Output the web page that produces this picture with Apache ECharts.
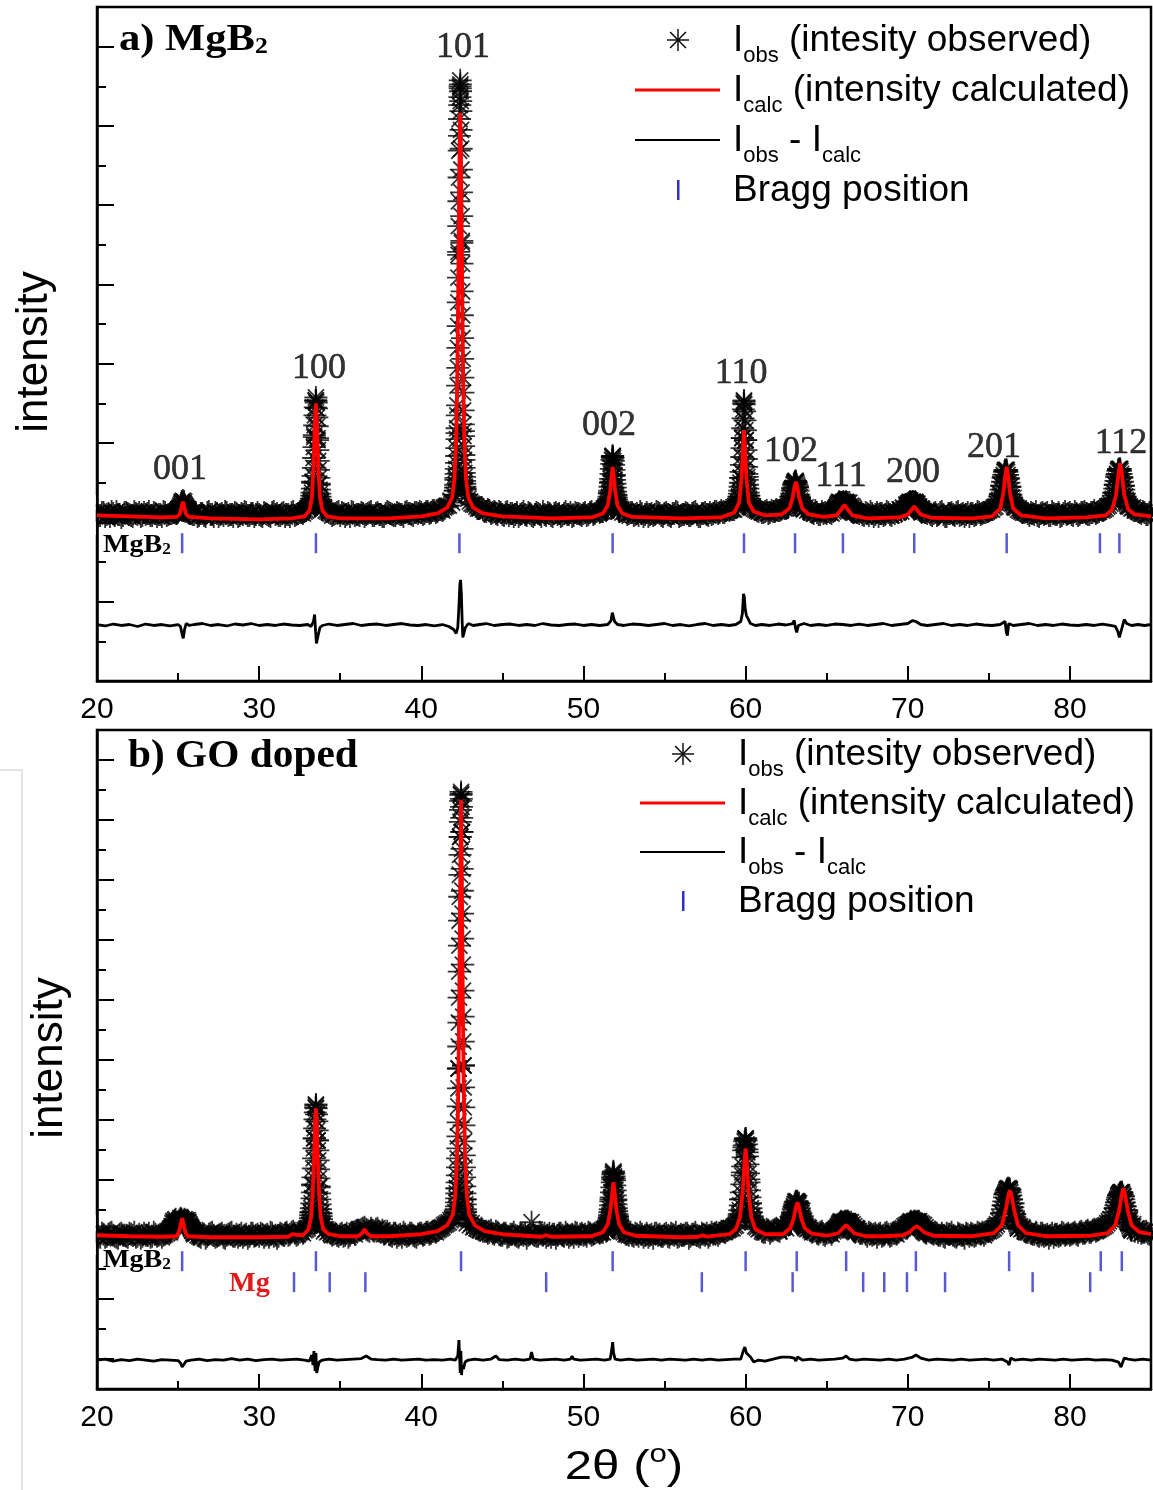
<!DOCTYPE html>
<html>
<head>
<meta charset="utf-8">
<title>MgB2 / GO doped - Rietveld refinement</title>
<script src="https://cdn.jsdelivr.net/npm/echarts@6.0.0/dist/echarts.min.js"></script>
<style>
  html, body { margin: 0; padding: 0; background: #fff; }
  #main { width: 1153px; height: 1490px; }
</style>
</head>
<body>
<div id="main"></div>
<script>
// coarse scan grid (2theta in degrees); a second pass sits half a step later
var scanStart = 20;
var scanStep = 0.2;

var xMajorTicks = [20, 30, 40, 50, 60, 70, 80];
var xMinorTicks = [25, 35, 45, 55, 65, 75];

// ---------- a) MgB2 ----------
var obsA = [
  89, 87, 90, 88, 86, 89, 91, 88, 87, 90, 88, 86, 89, 90, 87, 88, 91, 87, 89, 88, 86, 90, 88, 89, 90,
  91, 97, 98, 92, 89, 88, 86, 89, 87, 90, 88, 86, 89, 88, 87, 90, 88, 86, 89, 87, 88, 90, 87, 89, 88,
  88, 86, 89, 87, 90, 88, 87, 89, 86, 88, 90, 87, 89, 90, 91, 94, 102, 168, 163, 101, 95, 91, 89, 88, 90,
  87, 89, 88, 86, 90, 88, 87, 89, 88, 90, 87, 89, 88, 86, 89, 90, 88, 87, 89, 88, 90, 89, 88, 90, 89,
  90, 89, 91, 90, 92, 91, 93, 95, 97, 102, 108, 170, 518, 172, 108, 101, 98, 96, 94, 93, 91, 92, 90, 89, 91,
  88, 90, 87, 89, 88, 86, 89, 88, 90, 87, 88, 89, 86, 88, 90, 87, 89, 88, 86, 89, 88, 90, 87, 89, 88,
  89, 87, 90, 88, 91, 90, 91, 93, 110, 147, 107, 92, 90, 91, 89, 90, 88, 87, 89, 88, 86, 89, 88, 90, 87,
  89, 88, 86, 89, 90, 87, 88, 89, 87, 90, 88, 86, 89, 88, 90, 89, 91, 90, 90, 92, 92, 93, 95, 106, 165,
  163, 107, 95, 93, 91, 90, 91, 89, 92, 91, 92, 93, 94, 95, 106, 119, 116, 100, 94, 92, 91, 89, 90, 88, 89,
  89, 90, 91, 95, 100, 98, 100, 100, 96, 91, 89, 88, 90, 87, 89, 88, 86, 89, 88, 90, 87, 89, 90, 91, 93,
  99, 100, 100, 99, 93, 91, 89, 88, 89, 87, 90, 88, 86, 89, 88, 90, 87, 89, 88, 86, 89, 88, 90, 89, 90,
  92, 93, 96, 101, 117, 132, 125, 105, 96, 93, 91, 90, 89, 90, 88, 87, 89, 88, 90, 87, 89, 88, 86, 89, 88,
  90, 87, 89, 88, 90, 89, 88, 90, 89, 91, 92, 94, 97, 102, 118, 133, 126, 106, 97, 94, 92, 91, 89, 90, 88,
  89
];
var obsA2 = [
  87, 90, 86, 89, 91, 87, 88, 85, 90, 89, 87, 91, 88, 86, 90, 89, 87, 90, 86, 88, 91, 87, 89, 90, 89,
  94, 99, 95, 90, 88, 90, 87, 89, 86, 91, 88, 90, 86, 89, 91, 87, 88, 90, 86, 89, 91, 87, 89, 86, 90,
  87, 90, 88, 86, 91, 89, 87, 90, 88, 86, 91, 88, 90, 89, 92, 96, 121, 203, 119, 94, 92, 90, 87, 89, 91,
  90, 86, 89, 91, 87, 88, 90, 86, 89, 91, 87, 90, 88, 86, 91, 89, 87, 90, 88, 86, 91, 89, 87, 90, 91,
  88, 91, 89, 92, 90, 93, 92, 96, 97, 100, 112, 350, 362, 114, 104, 99, 98, 94, 95, 91, 93, 89, 91, 88, 90,
  87, 91, 89, 86, 90, 88, 91, 87, 89, 86, 90, 88, 91, 87, 89, 86, 90, 89, 87, 91, 88, 86, 90, 89, 87,
  90, 88, 91, 89, 92, 91, 93, 96, 121, 127, 97, 93, 91, 88, 90, 87, 89, 91, 86, 90, 88, 87, 91, 89, 86,
  90, 87, 89, 91, 86, 88, 90, 87, 89, 91, 86, 89, 90, 87, 88, 91, 89, 92, 90, 93, 94, 93, 96, 125, 202,
  126, 97, 94, 92, 93, 90, 92, 90, 91, 93, 92, 95, 94, 100, 114, 121, 106, 97, 95, 93, 90, 92, 88, 91, 90,
  91, 89, 93, 97, 100, 99, 100, 97, 93, 90, 91, 87, 89, 91, 86, 90, 89, 87, 91, 88, 90, 91, 93, 95, 98,
  100, 101, 100, 96, 93, 90, 91, 87, 90, 88, 91, 86, 89, 90, 87, 91, 88, 86, 90, 89, 87, 91, 88, 90, 91,
  93, 95, 99, 108, 126, 133, 116, 100, 95, 92, 90, 91, 87, 89, 91, 86, 90, 89, 87, 91, 88, 90, 87, 91, 89,
  88, 91, 87, 90, 91, 88, 90, 92, 90, 93, 93, 96, 99, 110, 128, 134, 117, 101, 96, 95, 92, 90, 91, 88, 90
];
var fineStartA = [24.9, 33.1, 42.1, 51.4, 59.5, 62.6, 65.5, 69.9, 75.6, 82.6];
var fineStepA = [0.04, 0.02, 0.01, 0.02, 0.02, 0.04, 0.04, 0.04, 0.04, 0.04];
var fineObsA = [
  [89, 91, 90, 93, 92, 95, 97, 99, 101, 100, 102, 99, 101, 97, 96, 94, 92, 93, 90, 91, 89],
  [95, 97, 96, 99, 101, 100, 104, 107, 110, 114, 120, 127, 135, 145, 156, 166, 178, 188, 196, 203, 206,
   201, 195, 186, 177, 165, 153, 142, 133, 125, 118, 113, 109, 106, 103, 101, 99, 97, 96, 94, 93],
  [112, 115, 118, 123, 125, 129, 134, 140, 147, 155, 164, 175, 188, 198, 218, 236, 256, 278, 302, 327,
   353, 379, 404, 428, 455, 470, 487, 501, 509, 520, 526, 522, 515, 505, 495, 476, 457, 436, 413, 389, 364,
   341, 313, 289, 266, 245, 226, 211, 193, 179, 167, 157, 148, 143, 135, 130, 126, 122, 119, 116, 113],
  [92, 93, 95, 94, 97, 98, 100, 102, 104, 106, 109, 112, 116, 120, 124, 129, 134, 139, 143, 146, 147,
   145, 142, 138, 133, 128, 123, 119, 115, 111, 108, 105, 103, 101, 99, 97, 96, 95, 93, 92, 91],
  [96, 98, 100, 101, 104, 106, 109, 112, 116, 120, 125, 131, 138, 146, 155, 165, 175, 185, 194, 200, 203,
   199, 192, 183, 173, 163, 153, 144, 136, 129, 123, 118, 114, 110, 107, 104, 102, 100, 98, 97, 96],
  [95, 97, 99, 101, 103, 106, 109, 112, 115, 118, 120, 121, 122, 120, 118, 115, 112, 108, 105, 102, 100, 98, 97, 96, 94, 93],
  [92, 93, 95, 96, 98, 99, 100, 101, 100, 99, 98, 99, 100, 101, 100, 99, 100, 101, 100, 98, 97, 96, 95, 94, 93, 92, 91, 92, 90, 91, 90],
  [94, 95, 97, 98, 99, 100, 101, 100, 99, 100, 101, 100, 99, 100, 101, 99, 98, 97, 96, 95, 94, 93, 92, 91, 90, 91],
  [101, 103, 106, 109, 113, 117, 121, 125, 128, 131, 133, 132, 133, 131, 128, 124, 120, 116, 112, 108, 105, 102, 100, 98, 96, 95],
  [102, 104, 107, 110, 114, 118, 122, 126, 129, 132, 134, 133, 134, 132, 129, 125, 121, 117, 113, 109, 106, 103, 101, 99, 97, 96]
];
var calcA = [
  [20, 87], [22, 86], [24, 85], [24.9, 85.5], [25.1, 88], [25.2, 94], [25.3, 101], [25.4, 94], [25.5, 88], [25.7, 85.5],
  [27, 84], [30, 83], [32, 84], [32.8, 86], [33.1, 92], [33.25, 105], [33.35, 135], [33.42, 175], [33.5, 200],
  [33.58, 175], [33.65, 135], [33.75, 105], [33.9, 92], [34.2, 86], [35, 84], [38, 84], [40, 86], [41, 89],
  [41.6, 95], [41.9, 105], [42.05, 125], [42.15, 165], [42.22, 230], [42.28, 320], [42.33, 410], [42.37, 470],
  [42.4, 493], [42.43, 470], [42.47, 410], [42.52, 320], [42.58, 230], [42.65, 165], [42.75, 125], [42.9, 105],
  [43.2, 95], [43.8, 89], [45, 86], [48, 84], [50.5, 85], [51.2, 89], [51.5, 97], [51.65, 112], [51.74, 128],
  [51.8, 136], [51.86, 128], [51.95, 112], [52.1, 97], [52.4, 89], [53, 85.5], [56, 84], [58.5, 85], [59.3, 90],
  [59.6, 100], [59.75, 125], [59.85, 160], [59.9, 173], [59.95, 160], [60.05, 125], [60.2, 100], [60.5, 91],
  [61.2, 87], [62.2, 88], [62.7, 94], [62.9, 105], [63.0, 115], [63.1, 121], [63.2, 115], [63.3, 105], [63.5, 94],
  [63.9, 88], [64.8, 85.5], [65.6, 87], [65.9, 93], [66.1, 97.6], [66.3, 93], [66.6, 87], [67.5, 84], [69.5, 85],
  [70.0, 88], [70.25, 93], [70.4, 96], [70.55, 93], [70.8, 88], [71.5, 84.5], [74, 84], [75.2, 86], [75.7, 94],
  [75.9, 110], [76.0, 126], [76.1, 136], [76.2, 126], [76.3, 110], [76.5, 94], [77.0, 87], [78.5, 84], [81, 85],
  [82.2, 87], [82.6, 93], [82.85, 108], [83.0, 130], [83.1, 139.6], [83.2, 130], [83.35, 108], [83.6, 93],
  [84.0, 88], [85, 86]
];
var diffA = [
  [20, -23], [20.5, -24.5], [21, -22.5], [21.5, -24], [22, -23], [22.5, -25], [23, -22.5], [23.5, -24], [24, -23],
  [24.5, -24.5], [25.0, -23], [25.15, -25], [25.25, -33], [25.32, -37], [25.4, -28], [25.5, -22], [25.7, -24],
  [26, -23], [26.5, -22], [27, -24], [27.5, -23], [28, -24.5], [28.5, -22.5], [29, -23.5], [29.5, -22], [30, -24],
  [30.5, -23], [31, -24], [31.5, -22.5], [32, -23.5], [32.5, -24], [33, -23], [33.2, -25], [33.35, -20],
  [33.42, -13], [33.48, -30], [33.53, -42], [33.58, -44], [33.65, -33], [33.75, -26], [33.9, -24], [34.3, -22.5],
  [34.8, -24], [35.3, -23], [35.8, -22], [36.3, -24], [36.8, -23], [37.3, -22.5], [37.8, -24], [38.3, -23],
  [38.8, -22], [39.3, -23.5], [39.8, -24], [40.3, -23], [40.8, -24.5], [41.3, -23], [41.7, -25], [42.0, -28],
  [42.15, -32], [42.25, -26], [42.32, -5], [42.38, 18], [42.42, 22], [42.47, 8], [42.52, -20], [42.56, -36],
  [42.62, -34], [42.72, -26], [42.9, -22], [43.2, -24], [43.6, -23], [44, -22], [44.5, -24], [45, -23],
  [45.5, -22.5], [46, -24], [46.5, -23], [47, -24], [47.5, -22], [48, -23.5], [48.5, -24], [49, -23], [49.5, -22.5],
  [50, -24], [50.5, -23], [51, -24], [51.5, -23], [51.7, -19], [51.78, -11], [51.85, -13], [51.92, -20], [52.1, -23],
  [52.5, -24], [53, -22.5], [53.5, -23], [54, -24], [54.5, -23], [55, -22], [55.5, -24], [56, -23], [56.5, -24.5],
  [57, -23], [57.5, -22], [58, -24], [58.5, -23], [59, -24], [59.4, -23], [59.7, -20], [59.8, -12], [59.87, 8],
  [59.92, 5], [59.98, -8], [60.05, -14], [60.15, -17], [60.3, -22], [60.6, -24], [61, -23], [61.5, -24], [62, -22.5],
  [62.5, -23.5], [62.9, -22], [63.0, -19], [63.08, -27], [63.15, -31], [63.25, -24], [63.6, -22], [64, -24],
  [64.5, -23], [65, -24], [65.5, -22.5], [66, -23], [66.5, -24], [67, -22.5], [67.5, -24], [68, -23], [68.5, -22],
  [69, -24], [69.5, -23], [70.0, -22], [70.3, -19], [70.5, -20], [70.8, -23], [71.2, -24], [71.7, -23], [72.2, -22],
  [72.7, -24], [73.2, -23], [73.7, -24], [74.2, -22.5], [74.7, -23.5], [75.2, -24], [75.7, -23], [76.0, -20],
  [76.08, -31], [76.15, -34], [76.22, -22], [76.5, -24], [77, -23], [77.5, -22], [78, -24], [78.5, -23], [79, -24],
  [79.5, -22.5], [80, -23.5], [80.5, -24], [81, -23], [81.5, -24], [82, -22.5], [82.5, -24], [82.8, -25],
  [82.95, -30], [83.05, -36], [83.15, -34], [83.25, -24], [83.35, -18], [83.5, -22], [83.8, -24], [84.2, -23],
  [84.6, -24], [85, -23]
];
var braggA = [25.25, 33.5, 42.35, 51.8, 59.9, 63.05, 66.0, 70.4, 76.1, 81.85, 83.05];
var hklA = ['001', '100', '101', '002', '110', '102', '111', '200', '201', '112'];
var hklThetaA = [25.12, 33.69, 42.57, 51.58, 59.72, 62.8, 65.88, 70.32, 75.32, 83.15];
var hklLevelA = [133, 235, 559, 178, 230, 151, 126, 130, 156, 160];

// ---------- b) GO doped ----------
var obsB = [
  124, 122, 125, 123, 126, 124, 122, 125, 124, 123, 126, 124, 122, 125, 123, 124, 126, 123, 125, 124, 122, 125, 127, 131, 135,
  137, 140, 138, 136, 131, 127, 124, 122, 125, 123, 126, 124, 123, 125, 122, 124, 126, 123, 125, 124, 122, 125, 123, 126, 124,
  123, 125, 124, 122, 126, 124, 123, 125, 126, 124, 127, 126, 125, 128, 129, 131, 147, 221, 219, 146, 128, 127, 126, 125, 124,
  125, 123, 126, 124, 127, 128, 129, 131, 130, 128, 129, 130, 128, 129, 126, 125, 123, 126, 124, 122, 125, 124, 126, 123, 125,
  126, 125, 127, 126, 128, 129, 131, 134, 136, 139, 142, 171, 523, 294, 136, 134, 132, 131, 129, 128, 128, 127, 126, 128, 125,
  124, 126, 123, 125, 124, 122, 125, 126, 124, 137, 124, 123, 125, 126, 124, 122, 125, 124, 126, 123, 125, 124, 122, 126, 125,
  124, 123, 126, 125, 127, 126, 127, 128, 142, 180, 160, 135, 128, 125, 124, 124, 126, 123, 125, 124, 122, 125, 126, 124, 123,
  125, 123, 126, 124, 122, 125, 124, 126, 123, 125, 124, 122, 125, 126, 124, 125, 127, 126, 128, 129, 130, 131, 134, 143, 187,
  221, 180, 142, 133, 130, 128, 127, 129, 128, 130, 129, 131, 133, 135, 138, 152, 157, 146, 134, 130, 129, 128, 126, 127, 125,
  126, 127, 128, 131, 134, 137, 138, 137, 135, 131, 128, 126, 125, 127, 124, 126, 125, 123, 126, 125, 124, 126, 128, 130, 133,
  135, 136, 138, 137, 136, 134, 130, 127, 125, 126, 124, 123, 126, 125, 124, 122, 125, 124, 126, 123, 125, 124, 126, 127, 126,
  128, 130, 133, 138, 146, 165, 170, 160, 145, 131, 130, 128, 127, 126, 125, 124, 126, 123, 125, 124, 122, 125, 124, 126, 125,
  124, 126, 125, 127, 126, 128, 127, 129, 128, 130, 132, 134, 138, 143, 151, 164, 167, 153, 137, 129, 128, 127, 126, 127, 126,
  125
];
var obsB2 = [
  123, 126, 122, 125, 127, 123, 121, 126, 124, 122, 125, 127, 123, 121, 126, 124, 122, 127, 123, 125, 124, 126, 129, 133, 136,
  139, 137, 139, 134, 129, 126, 123, 126, 121, 125, 127, 122, 124, 126, 121, 125, 127, 123, 122, 126, 124, 121, 126, 123, 125,
  126, 122, 125, 127, 123, 121, 126, 124, 127, 125, 128, 124, 127, 126, 130, 134, 175, 254, 172, 134, 130, 128, 124, 126, 123,
  126, 124, 122, 127, 125, 129, 130, 132, 129, 131, 128, 131, 127, 125, 128, 124, 126, 122, 125, 127, 123, 126, 124, 122, 126,
  124, 127, 125, 128, 127, 130, 132, 135, 137, 141, 147, 291, 528, 160, 140, 136, 133, 130, 131, 128, 126, 129, 125, 127, 124,
  126, 122, 125, 127, 123, 126, 124, 121, 125, 126, 123, 127, 124, 122, 126, 125, 121, 126, 124, 127, 122, 125, 127, 123, 126,
  125, 127, 124, 126, 128, 127, 130, 132, 160, 181, 143, 131, 127, 125, 127, 123, 125, 127, 122, 126, 124, 121, 126, 125, 123,
  126, 122, 125, 127, 123, 124, 126, 121, 125, 127, 123, 126, 124, 122, 127, 126, 124, 128, 127, 129, 131, 133, 137, 160, 212,
  207, 156, 139, 132, 131, 127, 130, 126, 129, 131, 128, 132, 131, 135, 146, 155, 156, 143, 133, 131, 127, 129, 125, 128, 124,
  127, 125, 129, 133, 136, 136, 138, 137, 133, 130, 126, 128, 123, 126, 125, 122, 126, 124, 127, 123, 126, 125, 129, 131, 134,
  135, 137, 137, 138, 135, 132, 128, 126, 127, 124, 126, 122, 125, 127, 123, 126, 124, 121, 125, 126, 123, 127, 125, 124, 128,
  129, 131, 135, 141, 154, 167, 170, 156, 139, 133, 131, 127, 129, 125, 127, 123, 126, 124, 121, 126, 125, 123, 127, 124, 126,
  125, 127, 124, 128, 126, 129, 127, 130, 129, 131, 133, 136, 140, 147, 157, 166, 163, 149, 140, 135, 131, 129, 127, 128, 125
];
var fineStartB = [24.5, 33.1, 42.15, 51.45, 59.55, 62.7, 65.6, 69.95, 75.8, 82.8];
var fineStepB = [0.05, 0.02, 0.01, 0.02, 0.03, 0.04, 0.04, 0.04, 0.04, 0.04];
var fineObsB = [
  [127, 129, 133, 136, 138, 137, 139, 140, 137, 135, 136, 138, 139, 141, 140, 138, 137, 139, 140, 138, 136, 137, 139, 137, 135, 133, 131, 129, 128, 126, 125],
  [134, 136, 138, 141, 144, 147, 151, 156, 161, 167, 174, 182, 191, 201, 211, 221, 231, 240, 247, 252, 255,
   251, 245, 238, 229, 219, 209, 199, 190, 181, 173, 166, 160, 155, 150, 146, 143, 140, 137, 135, 133],
  [150, 153, 157, 161, 166, 171, 177, 184, 192, 201, 211, 223, 237, 253, 271, 291, 313, 337, 362, 388,
   414, 439, 463, 485, 505, 523, 538, 550, 559, 565, 568, 566, 561, 553, 542, 528, 511, 491, 469, 446, 421,
   395, 369, 343, 318, 294, 272, 252, 234, 218, 204, 192, 182, 173, 166, 160, 155, 150, 147, 144, 141],
  [129, 130, 132, 133, 135, 137, 139, 141, 144, 147, 150, 154, 158, 162, 167, 172, 177, 182, 185, 187, 188,
   186, 183, 179, 174, 169, 164, 159, 155, 151, 148, 145, 142, 140, 138, 136, 134, 132, 131, 130, 129],
  [138, 141, 145, 149, 154, 160, 167, 175, 184, 193, 202, 209, 214, 218, 220, 221, 219, 215, 210, 203, 195,
   186, 177, 169, 162, 156, 151, 147, 143, 140, 137],
  [135, 137, 139, 141, 144, 147, 150, 153, 155, 157, 158, 157, 158, 156, 154, 151, 148, 145, 142, 140, 138, 136, 134, 133, 132, 131],
  [129, 130, 132, 133, 135, 136, 137, 138, 137, 136, 135, 136, 137, 138, 137, 136, 137, 138, 137, 136, 135, 134, 133, 132, 131, 130, 129, 128, 129, 127, 128],
  [131, 132, 134, 135, 136, 137, 138, 137, 136, 135, 136, 137, 138, 137, 136, 137, 138, 137, 136, 135, 134, 133, 132, 131, 130, 129, 128, 129, 127, 128, 126],
  [146, 150, 154, 158, 162, 165, 167, 169, 170, 171, 170, 171, 169, 167, 164, 160, 156, 152, 148, 145, 142, 139, 137, 135, 133, 131],
  [151, 154, 157, 160, 162, 164, 165, 166, 167, 166, 167, 165, 163, 160, 157, 153, 149, 146, 143, 140, 137, 135, 133, 131, 130, 129]
];
var calcB = [
  [20, 124], [22, 123], [24, 122.5], [24.9, 123], [25.05, 127], [25.15, 134], [25.25, 141], [25.35, 134], [25.45, 127],
  [25.6, 123], [27, 122], [30, 122], [31.8, 122.5], [32.05, 125], [32.15, 126], [32.25, 124.5], [32.7, 124], [33.05, 130],
  [33.2, 142], [33.3, 165], [33.38, 200], [33.45, 238], [33.5, 251], [33.55, 238], [33.62, 200], [33.7, 165], [33.8, 142],
  [33.95, 130], [34.3, 125], [35, 123], [36.1, 123], [36.35, 126], [36.5, 130], [36.65, 126], [36.9, 123], [38, 123],
  [40, 125], [41, 128], [41.6, 134], [41.95, 145], [42.1, 165], [42.2, 200], [42.28, 270], [42.34, 360], [42.39, 460],
  [42.43, 530], [42.45, 560], [42.47, 530], [42.51, 460], [42.56, 360], [42.62, 270], [42.7, 200], [42.8, 165],
  [42.95, 145], [43.3, 134], [43.9, 128], [45, 125], [47.4, 122.5], [47.7, 124], [48, 122.5], [50.5, 123], [51.2, 127],
  [51.5, 135], [51.67, 150], [51.78, 167], [51.85, 177], [51.92, 167], [52.03, 150], [52.2, 135], [52.5, 127],
  [53.2, 123.5], [56, 122], [57.1, 122.5], [57.35, 124], [57.6, 122.5], [59, 125], [59.4, 130], [59.65, 142],
  [59.82, 168], [59.93, 198], [60.0, 211], [60.07, 198], [60.18, 168], [60.35, 142], [60.6, 130], [61.2, 125],
  [62.3, 125], [62.75, 131], [62.95, 140], [63.1, 152], [63.2, 157], [63.3, 152], [63.45, 140], [63.65, 131],
  [64.1, 125.5], [65, 123.5], [65.7, 126], [66.0, 131], [66.2, 134], [66.4, 131], [66.7, 126], [67.4, 123],
  [68.5, 123], [69.7, 124], [70.1, 127], [70.35, 131], [70.55, 133], [70.75, 131], [71.0, 127], [71.6, 123.5],
  [74, 123], [75.3, 126], [75.8, 134], [76.05, 150], [76.2, 164], [76.3, 169], [76.4, 164], [76.55, 150], [76.8, 134],
  [77.3, 126], [78.5, 123], [81.3, 123.5], [82.3, 126], [82.8, 134], [83.05, 150], [83.2, 165], [83.3, 171],
  [83.4, 165], [83.55, 150], [83.8, 134], [84.3, 127], [85, 125]
];
var diffB = [
  [20, -1], [20.5, 0], [21, -2], [21.5, -0.5], [22, -1.5], [22.5, 0], [23, -1], [23.5, -2], [24, -0.5], [24.5, -1],
  [25.0, -1.5], [25.15, -4], [25.25, -8], [25.35, -6], [25.5, -2], [25.8, -1], [26.3, 0], [26.8, -1.5], [27.3, -0.5],
  [27.8, -1], [28.3, 0.5], [28.8, -1], [29.3, 0], [29.8, -1.5], [30.3, -0.5], [30.8, 0], [31.3, -1], [31.8, -0.5],
  [32.3, 0], [32.8, -1], [33.1, -2], [33.25, 4], [33.32, -6], [33.38, 8], [33.45, -12], [33.5, 6], [33.55, -14],
  [33.62, -8], [33.7, -3], [33.9, -1], [34.3, 0], [34.8, -1], [35.3, -0.5], [35.8, 0], [36.3, 0.5], [36.6, 3],
  [36.9, 0], [37.3, -0.5], [37.8, -1], [38.3, 0], [38.8, -1], [39.3, -0.5], [39.8, 0], [40.3, -1], [40.8, -0.5],
  [41.3, -1], [41.8, 0], [42.1, -1], [42.25, 3], [42.32, 19], [42.36, 4], [42.4, -14], [42.44, 8], [42.48, -16],
  [42.53, -6], [42.6, -10], [42.7, -3], [42.9, -1], [43.3, 0], [43.8, -1], [44.3, 0], [44.6, 3], [44.8, -0.5],
  [45.3, -1], [45.8, 0], [46.3, -1], [46.7, 0], [46.8, 7], [46.9, 0], [47.3, -1], [47.8, -0.5], [48.3, 0], [48.8, -1],
  [49.2, 0], [49.3, 3], [49.4, 0], [49.8, -1], [50.3, -0.5], [50.8, 0], [51.3, -1], [51.65, 0], [51.75, 10], [51.8, 17],
  [51.86, 6], [51.95, 0], [52.3, -1], [52.8, 0], [53.3, -1], [53.8, -0.5], [54.3, 0], [54.8, -1], [55.3, 0], [55.8, -0.5],
  [56.3, -1], [56.8, 0], [57.3, -1], [57.8, 0], [58.3, -1], [58.8, -0.5], [59.3, 0], [59.7, 0], [59.85, 8], [59.95, 12],
  [60.05, 6], [60.15, 8], [60.3, 2], [60.5, -3], [60.8, -1], [61.2, -2], [61.7, 0], [62.2, 2], [62.7, 2], [63.0, 1],
  [63.1, -2], [63.2, 2], [63.5, -1], [64, 0], [64.5, -1], [65, -0.5], [65.5, 0], [66.0, 1], [66.2, 3], [66.4, 0],
  [66.8, -1], [67.3, 0], [67.8, -0.5], [68.3, -1], [68.8, 0], [69.3, -1], [69.8, 0], [70.3, 2], [70.5, 4], [70.8, 1],
  [71.3, -1], [71.8, 0], [72.3, -0.5], [72.8, -1], [73.3, 0], [73.8, -1], [74.3, -0.5], [74.8, 0], [75.3, -1], [75.8, 0],
  [76.15, -3], [76.25, -6], [76.35, 1], [76.6, -1], [77.1, 0], [77.6, -1], [78.1, 0], [78.6, -0.5], [79.1, -1],
  [79.6, 0], [80.1, -1], [80.6, -0.5], [81.1, 0], [81.6, -1], [82.1, -0.5], [82.6, -1], [83.0, -3], [83.15, -8],
  [83.25, -6], [83.35, 1], [83.45, 3], [83.6, 0], [84, -1], [84.5, 0], [85, -1]
];
var braggMgB2 = [25.25, 33.5, 42.45, 51.8, 60.0, 63.15, 66.2, 70.5, 76.25, 81.9, 83.2];
var braggMg = [32.15, 34.35, 36.55, 47.7, 57.3, 62.9, 67.25, 68.55, 69.95, 72.3, 77.7, 81.25];

// ---------- helpers ----------
function scan(start, step, counts) {
  return counts.map(function (c, i) {
    return [Math.round((start + i * step) * 1000) / 1000, c];
  });
}
function observed(counts, counts2, starts, steps, fine) {
  var pts = scan(scanStart, scanStep, counts).concat(scan(scanStart + scanStep / 2, scanStep, counts2));
  fine.forEach(function (f, k) {
    pts = pts.concat(scan(starts[k], steps[k], f));
  });
  return pts;
}
function ticksAt(list, level) {
  return list.map(function (t) { return [t, level]; });
}

var starPath = 'path://M10 0L10 20M0 10L20 10M3 3L17 17M17 3L3 17';
var SANS = 'Liberation Sans, Arial, sans-serif';
var SERIF = 'Liberation Serif, Times New Roman, serif';

function xAxisPair(gi) {
  return [{
    type: 'value', gridIndex: gi, min: 20, max: 85, position: 'bottom',
    axisLine: { onZero: false, lineStyle: { color: '#000', width: 2.5 } },
    axisTick: { inside: true, length: 15, customValues: xMajorTicks, lineStyle: { color: '#000', width: 2 } },
    axisLabel: { customValues: xMajorTicks, color: '#000', fontSize: 30, fontFamily: SANS, margin: 14 },
    splitLine: { show: false }
  }, {
    type: 'value', gridIndex: gi, min: 20, max: 85, position: 'bottom',
    axisLine: { show: false, onZero: false },
    axisTick: { inside: true, length: 8, customValues: xMinorTicks, lineStyle: { color: '#000', width: 2 } },
    axisLabel: { show: false },
    splitLine: { show: false }
  }];
}
function yAxisPair(gi, min, max, major, minor) {
  return [{
    type: 'value', gridIndex: gi, min: min, max: max, position: 'left',
    axisLine: { onZero: false, lineStyle: { color: '#000', width: 2.5 } },
    axisTick: { inside: true, length: 17, customValues: major, lineStyle: { color: '#000', width: 2 } },
    axisLabel: { show: false },
    splitLine: { show: false }
  }, {
    type: 'value', gridIndex: gi, min: min, max: max, position: 'left',
    axisLine: { show: false, onZero: false },
    axisTick: { inside: true, length: 9, customValues: minor, lineStyle: { color: '#000', width: 2 } },
    axisLabel: { show: false },
    splitLine: { show: false }
  }];
}

var yMajorA = [0, 80, 160, 240, 320, 400, 480, 560];
var yMinorA = [-40, 40, 120, 200, 280, 360, 440, 520];
var yMajorB = [0, 60, 120, 180, 240, 300, 360, 420, 480, 540, 600];
var yMinorB = [30, 90, 150, 210, 270, 330, 390, 450, 510, 570];

function panelSeries(xi, yi, obs, calc, diff) {
  return [{
    type: 'scatter', xAxisIndex: xi, yAxisIndex: yi, data: obs,
    symbol: starPath, symbolSize: 23, silent: true, z: 2,
    itemStyle: { color: 'rgba(0,0,0,0)', borderColor: '#000', borderWidth: 1.8 }
  }, {
    type: 'line', xAxisIndex: xi, yAxisIndex: yi, data: calc,
    symbol: 'none', silent: true, z: 4,
    lineStyle: { color: '#ff0000', width: 3.8 }
  }, {
    type: 'line', xAxisIndex: xi, yAxisIndex: yi, data: diff,
    symbol: 'none', silent: true, z: 3,
    lineStyle: { color: '#000', width: 2.8 }
  }];
}
function braggSeries(xi, yi, data) {
  return {
    type: 'scatter', xAxisIndex: xi, yAxisIndex: yi, data: data,
    symbol: 'rect', symbolSize: [2.5, 20], silent: true, z: 5,
    itemStyle: { color: '#2f2fc8' }
  };
}

var hklData = hklA.map(function (h, i) { return [hklThetaA[i], hklLevelA[i], h]; });

var series = []
  .concat(panelSeries(0, 0, observed(obsA, obsA2, fineStartA, fineStepA, fineObsA), calcA, diffA))
  .concat([braggSeries(0, 0, ticksAt(braggA, 59))])
  .concat([{
    type: 'scatter', xAxisIndex: 0, yAxisIndex: 0, data: hklData,
    symbolSize: 1, silent: true, z: 6, itemStyle: { color: 'rgba(0,0,0,0)' },
    label: {
      show: true, position: 'inside', color: '#000', fontSize: 36, fontFamily: SERIF,
      textBorderColor: '#000', textBorderWidth: 0.5,
      formatter: function (p) { return p.data[2]; }
    }
  }])
  .concat(panelSeries(2, 2, observed(obsB, obsB2, fineStartB, fineStepB, fineObsB), calcB, diffB))
  .concat([braggSeries(2, 2, ticksAt(braggMgB2, 98)), braggSeries(2, 2, ticksAt(braggMg, 77))]);

// legend / titles as graphic elements
var legRich = {
  m: { fontSize: 37, lineHeight: 37, verticalAlign: 'top', fontFamily: SANS, fill: '#000' },
  s: { fontSize: 22, lineHeight: 22, verticalAlign: 'top', padding: [23, 0, 0, 0], fontFamily: SANS, fill: '#000' }
};
function starMark(cx, cy, r) {
  var d = r * 0.72;
  var st = { stroke: '#000', lineWidth: 1.4 };
  return [
    { type: 'line', shape: { x1: cx, y1: cy - r, x2: cx, y2: cy + r }, style: st },
    { type: 'line', shape: { x1: cx - r, y1: cy, x2: cx + r, y2: cy }, style: st },
    { type: 'line', shape: { x1: cx - d, y1: cy - d, x2: cx + d, y2: cy + d }, style: st },
    { type: 'line', shape: { x1: cx - d, y1: cy + d, x2: cx + d, y2: cy - d }, style: st }
  ];
}
function legendBlock(sx, tx, y1, dy) {
  var rows = [
    '{m|I}{s|obs}{m| (intesity observed)}',
    '{m|I}{s|calc}{m| (intensity calculated)}',
    '{m|I}{s|obs}{m| - I}{s|calc}',
    '{m|Bragg position}'
  ];
  var els = rows.map(function (r, i) {
    return { type: 'text', style: { x: tx, y: y1 + i * dy - 18, text: r, rich: legRich, verticalAlign: 'top' } };
  });
  els = els.concat(starMark(sx, y1, 11));
  els.push({ type: 'line', shape: { x1: sx - 43, y1: y1 + dy, x2: sx + 42, y2: y1 + dy }, style: { stroke: '#ff0000', lineWidth: 3 } });
  els.push({ type: 'line', shape: { x1: sx - 43, y1: y1 + 2 * dy, x2: sx + 42, y2: y1 + 2 * dy }, style: { stroke: '#000', lineWidth: 2 } });
  els.push({ type: 'rect', shape: { x: sx - 1, y: y1 + 3 * dy - 10, width: 2.5, height: 20 }, style: { fill: '#2f2fc8' } });
  return els;
}
function boldLabel(x, y, main, sub, size, subSize, color, sx) {
  return {
    type: 'text', x: x, y: y, scaleX: sx,
    style: {
      x: 0, y: 0, verticalAlign: 'middle',
      text: '{t|' + main + '}' + (sub ? '{s|' + sub + '}' : ''),
      rich: {
        t: { fontFamily: SERIF, fontWeight: 'bold', fontSize: size, lineHeight: size, verticalAlign: 'bottom', fill: color },
        s: { fontFamily: SERIF, fontWeight: 'bold', fontSize: subSize, lineHeight: subSize, verticalAlign: 'bottom', fill: color }
      }
    }
  };
}
// white masks where the observed markers spill past the left frame
function leftMask(y, h) {
  return { type: 'rect', z: 100, shape: { x: 70, y: y, width: 25.7, height: h }, style: { fill: '#fff' } };
}

var graphics = []
  .concat(legendBlock(678, 733, 40, 50))
  .concat(legendBlock(683, 738, 754, 49))
  .concat([
    leftMask(495, 40),
    leftMask(1215, 40),
    boldLabel(119, 40, 'a) MgB', '2', 38, 23, '#000', 1.12),
    boldLabel(128, 757, 'b) GO doped', null, 39, 22, '#000', 1.06),
    boldLabel(103, 545, 'MgB', '2', 26, 16, '#000', 1.08),
    boldLabel(103, 1260, 'MgB', '2', 26, 16, '#000', 1.08),
    boldLabel(229, 1284, 'Mg', null, 27, 16, '#e01b1b', 1.05),
    { type: 'text', x: 35, y: 352, rotation: Math.PI / 2,
      style: { text: 'intensity', fontSize: 44, fontFamily: SANS, fill: '#000', align: 'center', verticalAlign: 'middle' } },
    { type: 'text', x: 50, y: 1058, rotation: Math.PI / 2,
      style: { text: 'intensity', fontSize: 44, fontFamily: SANS, fill: '#000', align: 'center', verticalAlign: 'middle' } },
    { type: 'text', x: 624, y: 1437, scaleX: 1.2,
      style: { x: 0, y: 0, align: 'center', verticalAlign: 'top', text: '{m|2θ (}{s|o}{m|)}',
        rich: {
          m: { fontSize: 41, lineHeight: 41, padding: [10, 0, 0, 0], verticalAlign: 'top', fontFamily: SANS, fill: '#000' },
          s: { fontSize: 26, lineHeight: 26, padding: [5, 0, 0, 0], verticalAlign: 'top', fontFamily: SANS, fill: '#000' }
        } } },
    { type: 'line', shape: { x1: 22, y1: 770, x2: 22, y2: 1490 }, style: { stroke: '#c8c8c8', lineWidth: 1 } },
    { type: 'line', shape: { x1: 0, y1: 770, x2: 22, y2: 770 }, style: { stroke: '#c8c8c8', lineWidth: 1 } }
  ]);

var chart = echarts.init(document.getElementById('main'));
chart.setOption({
  animation: false,
  backgroundColor: '#fff',
  grid: [
    { left: 97, top: 7, width: 1054, height: 674, show: true, borderColor: '#000', borderWidth: 2.5, backgroundColor: 'transparent' },
    { left: 97, top: 730, width: 1054, height: 659, show: true, borderColor: '#000', borderWidth: 2.5, backgroundColor: 'transparent' }
  ],
  xAxis: xAxisPair(0).concat(xAxisPair(1)),
  yAxis: yAxisPair(0, -80, 600, yMajorA, yMinorA).concat(yAxisPair(1, -30, 630, yMajorB, yMinorB)),
  series: series,
  graphic: { elements: graphics }
});
</script>
</body>
</html>
